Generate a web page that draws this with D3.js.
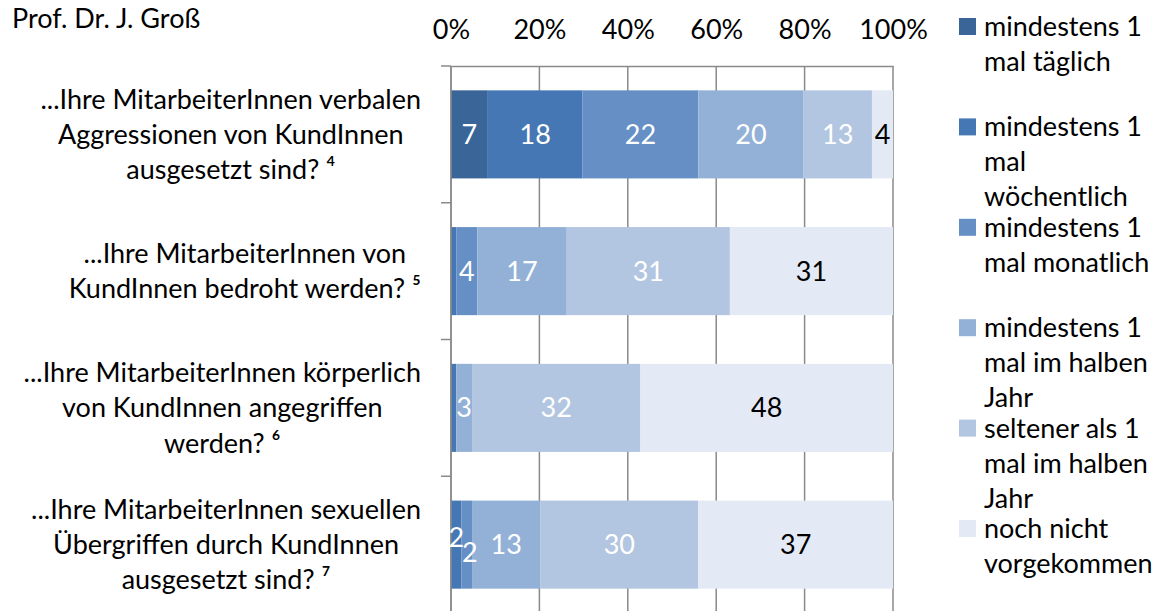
<!DOCTYPE html>
<html>

<head>
  <meta charset="utf-8">
  <title>Aggressionen</title>
  <script src="https://cdn.jsdelivr.net/npm/d3@7"></script>
  <style>
    body { margin: 0; background: #fff; }
    text { font-family: Lato, "Open Sans", sans-serif; }
  </style>
</head>

<body>
  <svg width="1163" height="611" id="mainsvg"></svg>
  <script>
    const categories = ['verbal', 'bedroht', 'koerperlich', 'sexuell'];
    const categoryLines = [
      ['...Ihre MitarbeiterInnen verbalen', 'Aggressionen von KundInnen', 'ausgesetzt sind? ⁴'],
      ['...Ihre MitarbeiterInnen von', 'KundInnen bedroht werden? ⁵'],
      ['...Ihre MitarbeiterInnen körperlich', 'von KundInnen angegriffen', 'werden? ⁶'],
      ['...Ihre MitarbeiterInnen sexuellen', 'Übergriffen durch KundInnen', 'ausgesetzt sind? ⁷']
    ];
    const seriesNames = [
      ['mindestens 1', 'mal täglich'],
      ['mindestens 1', 'mal', 'wöchentlich'],
      ['mindestens 1', 'mal monatlich'],
      ['mindestens 1', 'mal im halben', 'Jahr'],
      ['seltener als 1', 'mal im halben', 'Jahr'],
      ['noch nicht', 'vorgekommen']
    ];
    const taeglich = [7, 0, 0, 0];
    const woechentlich = [18, 1, 1, 2];
    const monatlich = [22, 4, 0, 2];
    const halbesJahr = [20, 17, 3, 13];
    const seltener = [13, 31, 32, 30];
    const nochNicht = [4, 31, 48, 37];
    const tickValues = [0, 0.2, 0.4, 0.6, 0.8, 1];

    const colors = ['#3a6598', '#4677b5', '#6690c5', '#93b1d7', '#b2c6e1', '#e3eaf5'];
    const FS = 27;

    const svg = d3.select('#mainsvg');
    const series = [taeglich, woechentlich, monatlich, halbesJahr, seltener, nochNicht];
    const keys = d3.range(series.length);
    const table = categories.map((c, i) => {
      const row = { cat: c };
      keys.forEach(k => row[k] = series[k][i]);
      return row;
    });

    const x = d3.scaleLinear().domain([0, 1]).range([451, 893]);
    const y = d3.scaleBand().domain(categories).range([66, 613])
      .paddingInner(0.356).paddingOuter(0.178);
    const step = y.step();

    const stacked = d3.stack().keys(keys).offset(d3.stackOffsetExpand)(table);

    // gridlines
    svg.append('g')
      .selectAll('line')
      .data(tickValues)
      .join('line')
      .attr('x1', d => x(d)).attr('x2', d => x(d))
      .attr('y1', 66).attr('y2', 613)
      .attr('stroke', '#8a8a8a').attr('stroke-width', 1.5);

    // top axis
    const xAxis = svg.append('g')
      .attr('transform', 'translate(0,66)')
      .call(d3.axisTop(x).tickValues(tickValues).tickFormat(d3.format('.0%')).tickSize(0).tickPadding(27));
    xAxis.select('.domain').attr('stroke', '#8a8a8a').attr('stroke-width', 1.5);
    xAxis.selectAll('text').attr('font-size', FS).attr('fill', '#000')
      .style('font-family', 'Lato, sans-serif');

    // bars
    const layer = svg.append('g')
      .selectAll('g')
      .data(stacked)
      .join('g')
      .attr('fill', d => colors[d.key]);

    layer.selectAll('rect')
      .data(d => d)
      .join('rect')
      .attr('x', d => x(d[0]))
      .attr('width', d => x(d[1]) - x(d[0]))
      .attr('y', d => y(d.data.cat))
      .attr('height', y.bandwidth());

    // left axis with category ticks
    const left = svg.append('g');
    left.append('line')
      .attr('x1', 451).attr('x2', 451).attr('y1', 66).attr('y2', 613)
      .attr('stroke', '#8a8a8a').attr('stroke-width', 1.5);
    left.selectAll('.tick')
      .data(d3.range(categories.length + 1))
      .join('line')
      .attr('class', 'tick')
      .attr('x1', 441).attr('x2', 451)
      .attr('y1', i => 66 + i * step).attr('y2', i => 66 + i * step)
      .attr('stroke', '#8a8a8a').attr('stroke-width', 1.5);

    // value labels
    const labels = [];
    stacked.forEach(s => {
      let narrowCount = {};
      s.forEach((d, i) => {
        const v = series[s.key][i];
        if (v < 2) return;
        const w = x(d[1]) - x(d[0]);
        let dx = 0, dy = 0;
        if (w < 12) {
          const n = narrowCount[i] = (narrowCount[i] || 0);
          dy = n === 0 ? -7 : 8;
        }
        labels.push({ s: s.key, i, v, cx: (x(d[0]) + x(d[1])) / 2, cat: d.data.cat, w });
      });
    });
    // stagger neighbouring narrow labels in the same row
    categories.forEach(c => {
      const narrow = labels.filter(l => l.cat === c && l.w < 12);
      narrow.forEach((l, k) => { l.dy = k % 2 === 0 ? -7 : 8; l.dx = k % 2 === 0 ? 0 : 3; });
    });
    svg.append('g')
      .selectAll('text')
      .data(labels)
      .join('text')
      .attr('x', d => d.cx + (d.dx || 0))
      .attr('y', d => y(d.cat) + y.bandwidth() / 2 + (d.dy || 0))
      .attr('dy', '0.35em')
      .attr('text-anchor', 'middle')
      .attr('font-size', FS)
      .attr('fill', d => d.s === keys.length - 1 ? '#000' : '#fff')
      .text(d => d.v);

    // category labels, lines centred within a right-aligned block
    const lh = 35.3;
    const catG = svg.append('g');
    categories.forEach((c, i) => {
      const lines = categoryLines[i];
      const cy = y(c) + y.bandwidth() / 2;
      const t = catG.append('g');
      const texts = t.selectAll('text')
        .data(lines)
        .join('text')
        .attr('font-size', FS)
        .attr('text-anchor', 'middle')
        .attr('y', (d, k) => cy + (k - (lines.length - 1) / 2) * lh)
        .attr('dy', '0.35em')
        .text(d => d);
      const maxW = d3.max(texts.nodes(), n => n.getComputedTextLength());
      texts.attr('x', 421 - maxW / 2);
    });

    // legend
    const legend = svg.append('g');
    seriesNames.forEach((lines, i) => {
      const top = 18 + i * 100.4;
      legend.append('rect')
        .attr('x', 959).attr('y', top).attr('width', 17).attr('height', 17)
        .attr('fill', colors[i]);
      legend.append('g')
        .selectAll('text')
        .data(lines)
        .join('text')
        .attr('x', 984)
        .attr('y', (d, k) => top + 8.5 + k * 35)
        .attr('dy', '0.35em')
        .attr('font-size', FS)
        .text(d => d);
    });

    svg.append('text')
      .attr('x', 12).attr('y', 28)
      .attr('font-size', FS)
      .text('Prof. Dr. J. Groß');
  </script>
</body>

</html>
